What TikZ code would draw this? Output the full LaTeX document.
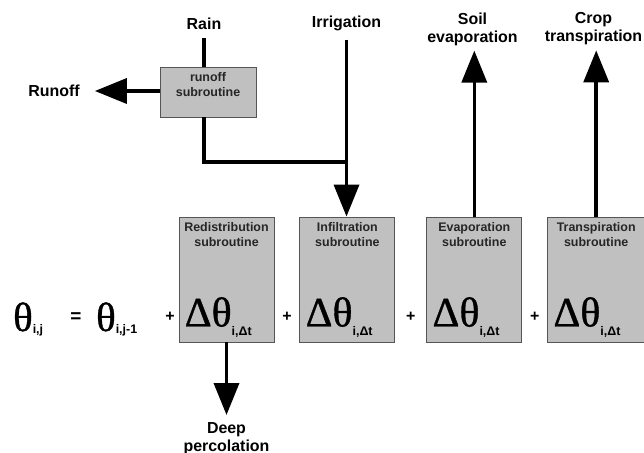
\documentclass[tikz,border=0pt]{standalone}
\usepackage{fontspec}
\setmainfont{Liberation Sans}
\newfontfamily\greekfont[FakeBold=0.9]{Liberation Serif}
\usetikzlibrary{arrows.meta, calc, positioning}
\definecolor{boxgray}{RGB}{192,192,192}
\definecolor{boxline}{RGB}{85,85,85}
\tikzstyle{block} = [rectangle, draw=boxline, fill=boxgray, line width=0.9bp, minimum width=95bp, minimum height=125bp, inner sep=0pt]
\tikzstyle{smallblock} = [rectangle, draw=boxline, fill=boxgray, line width=0.9bp, minimum width=96bp, minimum height=50bp, inner sep=0pt]
\tikzstyle{flowtext} = [font=\fontsize{16}{18}\selectfont\bfseries, align=center, inner sep=0pt]
\tikzstyle{boxtitle} = [font=\fontsize{12.5}{14.5}\selectfont\bfseries, text=black!85, align=center, inner sep=0pt]
\tikzstyle{plus} = [font=\fontsize{16}{16}\selectfont\bfseries, inner sep=0pt]
\tikzstyle{flow} = [line width=3.6bp]
\tikzstyle{arrow} = [line width=3.6bp, -{Triangle[length=32bp,width=25bp]}]
\newcommand{\thetasub}[1]{{\fontsize{41}{41}\greekfont θ}\raisebox{-2bp}{\fontsize{12.5}{12.5}\selectfont\bfseries #1}}
\newcommand{\dtheta}{{\fontsize{42}{42}\greekfont Δθ}\raisebox{-9bp}{\fontsize{12.5}{12.5}\selectfont\bfseries i,Δt}}
\begin{document}
\begin{tikzpicture}[x=1bp, y=1bp]
		\useasboundingbox (0,0) rectangle (644,-453);
		
		\node (Redistribution) [block] at (226.5,-279.5) {};
		\node (Infiltration) [block, right = 25bp of Redistribution] {};
		\node (Evaporation) [block, right = 31bp of Infiltration] {};
		\node (Transpiration) [block, minimum width=97bp, right = 25bp of Evaporation] {};
		
		\node [boxtitle, below = 6bp of Redistribution.north] {Redistribution\\subroutine};
		\node [boxtitle, below = 6bp of Infiltration.north] {Infiltration\\subroutine};
		\node [boxtitle, below = 6bp of Evaporation.north] {Evaporation\\subroutine};
		\node [boxtitle, below = 6bp of Transpiration.north] {Transpiration\\subroutine};
		
		\node [anchor=base west, inner sep=0pt] at ($(Redistribution.south west)+(6,16)$) {\dtheta};
		\node [anchor=base west, inner sep=0pt] at ($(Infiltration.south west)+(6,16)$) {\dtheta};
		\node [anchor=base west, inner sep=0pt] at ($(Evaporation.south west)+(6,16)$) {\dtheta};
		\node [anchor=base west, inner sep=0pt] at ($(Transpiration.south west)+(6,16)$) {\dtheta};
		
		\node (ThetaNew) [anchor=base west, inner sep=0pt] at (13,-331) {\thetasub{i,j}};
		\node (Equals) [plus, font=\fontsize{19}{19}\selectfont\bfseries] at (76,-318) {=};
		\node (ThetaOld) [anchor=base west, inner sep=0pt] at (96,-331) {\thetasub{i,j-1}};
		\node (Plus1) [plus] at (170,-317) {+};
		\node (Plus2) [plus] at ($(Redistribution.east)!0.5!(Infiltration.west)+(0,-37.5)$) {+};
		\node (Plus3) [plus] at ($(Infiltration.east)!0.5!(Evaporation.west)+(0,-37.5)$) {+};
		\node (Plus4) [plus] at ($(Evaporation.east)!0.5!(Transpiration.west)+(0,-37.5)$) {+};
		
		\node (RunoffBox) [smallblock] at (208,-92) {};
		\node [boxtitle, below = 6bp of RunoffBox.north] {runoff\\subroutine};
		\node (Rain) [flowtext] at (204,-24) {Rain};
		\node (Runoff) [flowtext] at (54,-91) {Runoff};
		\node (Irrigation) [flowtext] at (346.5,-23) {Irrigation};
		\node (SoilEvap) [flowtext] at (472.5,-29) {Soil\\evaporation};
		\node (CropTransp) [flowtext] at (593.5,-29) {Crop\\transpiration};
		\node (DeepPerc) [flowtext, anchor=north] at (226.5,-422) {Deep\\percolation};
		\coordinate (Junction) at (346.5,-162);
		
		\draw [flow] ($(Rain.south)+(0,-8)$) -- (Rain.south |- RunoffBox.north);
		\draw [arrow, shorten >=15bp] (RunoffBox.west |- Runoff) -- (Runoff.east);
		\draw [flow] (Rain.south |- RunoffBox.south) |- (Junction);
		\draw [arrow] ($(Irrigation.south)+(0,-9)$) -- (Irrigation.south |- Infiltration.north);
		\draw [arrow, shorten >=5bp] (Evaporation.north) -- (Evaporation.north |- SoilEvap.south);
		\draw [arrow, shorten >=5bp] (Transpiration.north) -- (Transpiration.north |- CropTransp.south);
		\draw [arrow, shorten >=7bp] (Redistribution.south) -- (DeepPerc.north);
		
		\end{tikzpicture}
\end{document}
